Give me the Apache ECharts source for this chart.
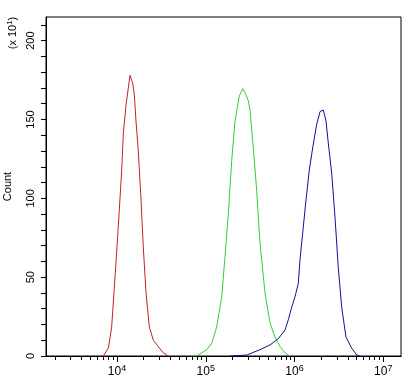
<!DOCTYPE html>
<html>
<head>
<meta charset="utf-8">
<script src="https://cdn.jsdelivr.net/npm/echarts@6/dist/echarts.min.js"></script>
<style>html,body{margin:0;padding:0;background:#fff}#c{width:420px;height:384px}</style>
</head>
<body>
<div id="c"></div>
<script>
// ---- data ----
var redX = [7000, 8000, 8710, 9495, 10340, 11300, 11780, 12630, 13410, 14020, 14650, 15030, 15670, 16370, 17380, 18490, 19790, 21230, 23120, 25650, 29200, 33240, 37840];
var redY = [0, 5, 18.5, 50, 82, 118, 141, 159, 170, 178, 178, 173, 166, 149, 130, 103, 69, 40, 18.5, 10, 6, 2, 0];

var greenX = [66440, 79070, 102500, 116700, 132900, 151300, 164800, 179500, 196100, 213600, 238800, 260900, 276900, 301600, 315200, 343400, 375000, 408700, 465200, 529700, 602600, 686500, 781600, 889400];
var greenY = [0, 0, 4, 8, 18.5, 37.5, 63, 90, 124, 149, 165, 169.5, 167, 162, 156, 132, 105, 71.5, 40, 21, 12, 6, 2, 0];

var blueX = [187600, 289400, 408700, 529700, 656900, 781600, 851400, 930000, 1013000, 1104000, 1153000, 1237000, 1348000, 1468000, 1603000, 1779000, 1938000, 2111000, 2265000, 2403000, 2625000, 2860000, 3115000, 3402000, 3802000, 4411000, 5022000, 5470000];
var blueY = [0, 0.6, 4, 7, 11, 16.5, 23, 31, 37.5, 46, 61, 78, 99, 118, 132, 147, 155, 156, 149, 135, 116, 88, 56, 31, 12, 5, 0.6, 0];

var xTickExps = [4, 5, 6, 7];
var xMinExp = 3.2, xMaxExp = 7.2;
var yMax = 215;
var yLabelValues = [0, 50, 100, 150, 200];
var yTitle = 'Count';
var yScaleNote = ['(x 10', '1', ')'];

// ---- build ----
function pairs(xs, ys) { return xs.map(function (x, i) { return [x, ys[i]]; }); }
var majorTicks = xTickExps.map(function (e) { return Math.pow(10, e); });
var minorTicks = [];
for (var e = 3; e <= 7; e++) {
  for (var k = 2; k <= 9; k++) {
    var v = k * Math.pow(10, e);
    if (v > Math.pow(10, xMinExp) && v < Math.pow(10, xMaxExp)) minorTicks.push(v);
  }
}
var yMinor = [];
for (var t = 0; t <= yMax; t += 10) yMinor.push(t);

var FONT = 'Liberation Sans';
var chart = echarts.init(document.getElementById('c'), null, { renderer: 'canvas' });
var baseX = {
  type: 'log', logBase: 10, min: Math.pow(10, xMinExp), max: Math.pow(10, xMaxExp),
  position: 'bottom', splitLine: { show: false }, axisLine: { show: true, lineStyle: { color: '#000', width: 1 } }
};
chart.setOption({
  animation: false,
  backgroundColor: '#fff',
  grid: { left: 46, right: 19, top: 17, bottom: 28, containLabel: false, outerBoundsMode: 'none', show: true, borderColor: '#000', borderWidth: 1 },
  xAxis: [
    Object.assign({}, baseX, {
      axisTick: { show: true, inside: false, length: 6, customValues: majorTicks, lineStyle: { color: '#000' } },
      axisLabel: {
        show: true, margin: 8, customValues: majorTicks,
        formatter: function (v) { return '{b|10}{s|' + Math.round(Math.log10(v)) + '}'; },
        rich: {
          b: { fontFamily: FONT, fontSize: 12, color: '#000', verticalAlign: 'bottom', lineHeight: 14 },
          s: { fontFamily: FONT, fontSize: 9, color: '#000', verticalAlign: 'top', lineHeight: 14, padding: [0, 0, 7, 0] }
        }
      }
    }),
    Object.assign({}, baseX, {
      axisTick: { show: true, length: 4, customValues: minorTicks, lineStyle: { color: '#000' } },
      axisLabel: { show: false }
    })
  ],
  yAxis: {
    type: 'value', min: 0, max: yMax,
    name: yTitle, nameLocation: 'middle', nameRotate: 90, nameGap: 33,
    nameTextStyle: { fontFamily: FONT, fontSize: 11, color: '#000' },
    splitLine: { show: false },
    axisLine: { show: true, lineStyle: { color: '#000', width: 1 } },
    axisTick: { show: true, length: 5, customValues: yMinor, lineStyle: { color: '#000' } },
    axisLabel: { show: true, rotate: 90, margin: 10, customValues: yLabelValues, fontFamily: FONT, fontSize: 11, color: '#000' }
  },
  graphic: [{
    type: 'text', x: 13, y: 33, rotation: Math.PI / 2,
    style: {
      text: yScaleNote[0] + '{s|' + yScaleNote[1] + '}' + yScaleNote[2],
      font: '11px "Liberation Sans"', fill: '#000', align: 'center', verticalAlign: 'middle',
      rich: { s: { fontFamily: FONT, fontSize: 8, fill: '#000', verticalAlign: 'top', padding: [0, 0, 6, 0] } }
    }
  }],
  series: [
    { type: 'line', xAxisIndex: 0, data: pairs(redX, redY), showSymbol: false, lineStyle: { color: '#c0202a', width: 1 }, itemStyle: { color: '#c0202a' } },
    { type: 'line', xAxisIndex: 0, data: pairs(greenX, greenY), showSymbol: false, lineStyle: { color: '#33cc33', width: 1 }, itemStyle: { color: '#33cc33' } },
    { type: 'line', xAxisIndex: 0, data: pairs(blueX, blueY), showSymbol: false, lineStyle: { color: '#10108f', width: 1 }, itemStyle: { color: '#10108f' } }
  ]
});
</script>
</body>
</html>
